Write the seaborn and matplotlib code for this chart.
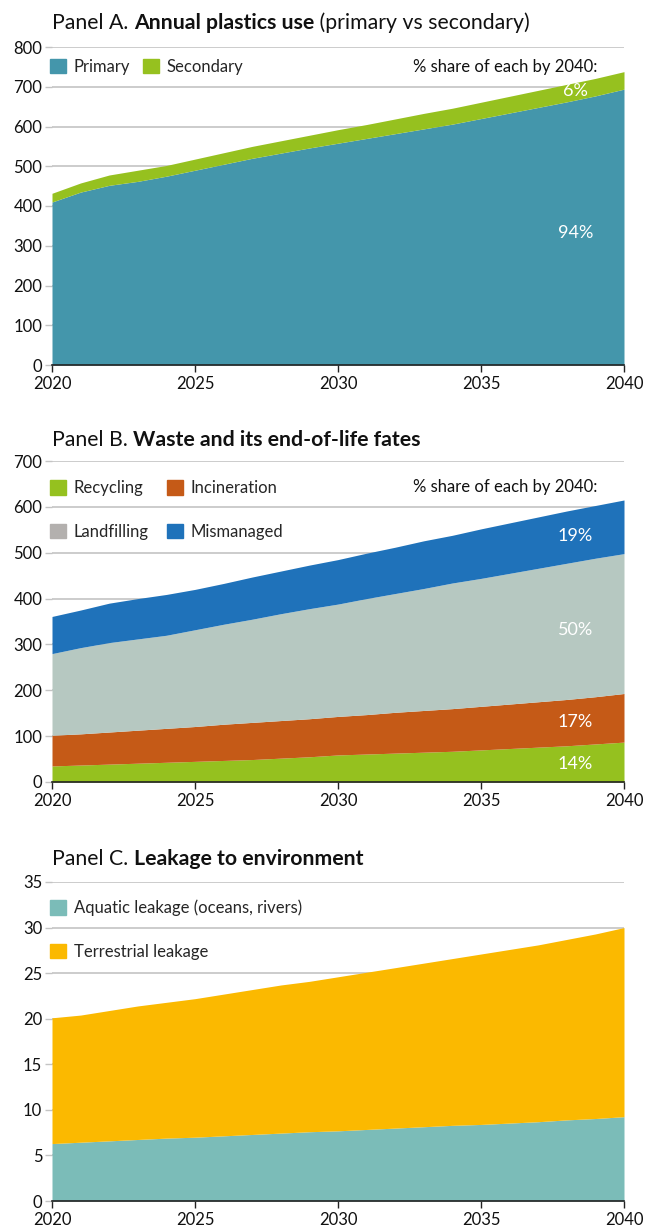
import numpy as np
import matplotlib
matplotlib.use("Agg")
import matplotlib.pyplot as plt
from matplotlib.patches import Patch
import seaborn as sns

years = list(range(2020, 2041))

# Panel A: annual plastics use (Mt)
primary = [410, 435, 452, 462, 475, 490, 505, 520, 533, 546, 558,
           570, 582, 594, 606, 620, 634, 648, 662, 677, 694]
secondary = [22, 23, 26, 28, 27, 28, 29, 30, 31, 32, 34,
             35, 37, 39, 40, 41, 42, 43, 44, 44, 44]

# Panel B: waste and end-of-life fates (Mt)
recycling = [35, 37, 39, 41, 43, 45, 47, 49, 52, 55, 59,
             61, 63, 65, 67, 70, 73, 76, 79, 83, 87]
incineration = [67, 68, 70, 72, 74, 76, 79, 81, 82, 83, 84,
                86, 89, 91, 93, 95, 97, 99, 101, 103, 106]
landfilling = [178, 188, 195, 199, 203, 211, 218, 225, 233, 240, 245,
               253, 259, 266, 274, 279, 285, 291, 297, 302, 305]
mismanaged = [81, 82, 86, 88, 89, 88, 89, 92, 93, 95, 97,
              99, 101, 104, 104, 108, 110, 112, 114, 115, 117]

# Panel C: leakage to environment (Mt)
aquatic = [6.3, 6.45, 6.6, 6.75, 6.9, 7.0, 7.15, 7.3, 7.45, 7.6, 7.7,
           7.85, 8.0, 8.15, 8.3, 8.4, 8.55, 8.7, 8.9, 9.05, 9.25]
terrestrial = [13.8, 13.95, 14.3, 14.65, 14.9, 15.2, 15.55, 15.9, 16.25, 16.5, 16.9,
               17.25, 17.6, 17.95, 18.3, 18.7, 19.05, 19.4, 19.8, 20.25, 20.75]

share_a = ["94%", "6%"]
share_b = ["14%", "17%", "50%", "19%"]

sns.set_theme(style="white")
FONT = ["Lato", "DejaVu Sans"]
plt.rcParams["font.family"] = FONT

C_PRIMARY = "#4496ab"
C_SECOND = "#96c11f"
C_RECYC = "#95c11f"
C_INCIN = "#c55a17"
C_LAND = "#b6c8c1"
C_LAND_KEY = "#b3b0ae"
C_MISM = "#1f72ba"
C_AQUA = "#7bbcb8"
C_TERR = "#fbb900"
GRID = "#c4c4c4"
TXT = 12
TICK = 12

fig = plt.figure(figsize=(6.53, 12.30), dpi=100)
W, H = 653, 1230


def make_axes(top_px, bottom_px):
    left, right = 52, 624
    return fig.add_axes([left / W, 1 - bottom_px / H,
                         (right - left) / W, (bottom_px - top_px) / H])


def style_axes(ax, ymax, ystep):
    ax.set_xlim(2020, 2040)
    ax.set_ylim(0, ymax)
    ax.set_xticks(range(2020, 2041, 5))
    ax.set_yticks(np.arange(0, ymax + ystep / 2, ystep))
    ax.yaxis.grid(True, color=GRID, lw=1.2)
    ax.set_axisbelow(True)
    sns.despine(ax=ax, left=True, top=True, right=True)
    ax.spines["bottom"].set_color("#222222")
    ax.spines["bottom"].set_linewidth(1.2)
    ax.spines["bottom"].set_zorder(5)
    ax.tick_params(axis="x", direction="out", length=5, width=1, color="#222222",
                   labelsize=TICK, pad=3, bottom=True)
    ax.tick_params(axis="y", direction="out", length=5, width=1, color=GRID,
                   labelsize=TICK, pad=2, left=True)
    for lab in ax.get_xticklabels() + ax.get_yticklabels():
        lab.set_color("#111111")


def title(y_px, parts):
    renderer = fig.canvas.get_renderer()
    x = 52 / W
    for txt, weight in parts:
        t = fig.text(x, 1 - y_px / H, txt, fontsize=15.3, fontweight=weight,
                     color="#111111", va="baseline", ha="left")
        bb = t.get_window_extent(renderer=renderer)
        x += bb.width / W


def band_mid(layers, idx, xpos):
    lower = np.sum(layers[:idx], axis=0) if idx > 0 else np.zeros(len(years))
    upper = lower + np.asarray(layers[idx])
    return np.interp(xpos, years, (lower + upper) / 2)


LABEL_X = 2038.3

# ---- Panel A ----
axA = make_axes(47, 365)
layersA = [primary, secondary]
axA.stackplot(years, *layersA, colors=[C_PRIMARY, C_SECOND], lw=0)
style_axes(axA, 800, 100)
axA.legend(handles=[Patch(color=C_PRIMARY), Patch(color=C_SECOND)],
           labels=["Primary", "Secondary"], loc="center left",
           bbox_to_anchor=(-0.003, 0.938), ncol=2, frameon=False,
           handlelength=0.95, handleheight=0.95, handletextpad=0.45,
           columnspacing=0.8, borderaxespad=0, borderpad=0, fontsize=TXT)
axA.text(0.953, 0.938, "% share of each by 2040:", transform=axA.transAxes,
         ha="right", va="center", fontsize=TXT, color="#111111")
for i, lab in enumerate(share_a):
    axA.text(LABEL_X, band_mid(layersA, i, LABEL_X), lab, ha="center", va="center",
             color="white", fontsize=13)
title(29, [("Panel A. ", "normal"), ("Annual plastics use", "bold"),
           (" (primary vs secondary)", "normal")])

# ---- Panel B ----
axB = make_axes(461, 782)
layersB = [recycling, incineration, landfilling, mismanaged]
axB.stackplot(years, *layersB, colors=[C_RECYC, C_INCIN, C_LAND, C_MISM], lw=0)
style_axes(axB, 700, 100)
axB.legend(handles=[Patch(color=C_RECYC), Patch(color=C_LAND_KEY),
                    Patch(color=C_INCIN), Patch(color=C_MISM)],
           labels=["Recycling", "Landfilling", "Incineration", "Mismanaged"],
           loc="upper left", bbox_to_anchor=(-0.003, 0.94), ncol=2, frameon=False,
           handlelength=0.95, handleheight=0.95, handletextpad=0.45,
           columnspacing=1.1, labelspacing=1.65, borderaxespad=0, borderpad=0,
           fontsize=TXT)
axB.text(0.953, 0.918, "% share of each by 2040:", transform=axB.transAxes,
         ha="right", va="center", fontsize=TXT, color="#111111")
for i, lab in enumerate(share_b):
    axB.text(LABEL_X, band_mid(layersB, i, LABEL_X), lab, ha="center", va="center",
             color="white", fontsize=13)
title(446, [("Panel B. ", "normal"), ("Waste and its end-of-life fates", "bold")])

# ---- Panel C ----
axC = make_axes(882, 1201)
axC.stackplot(years, aquatic, terrestrial, colors=[C_AQUA, C_TERR], lw=0)
style_axes(axC, 35, 5)
axC.legend(handles=[Patch(color=C_AQUA), Patch(color=C_TERR)],
           labels=["Aquatic leakage (oceans, rivers)", "Terrestrial leakage"],
           loc="upper left", bbox_to_anchor=(-0.003, 0.945), ncol=1, frameon=False,
           handlelength=0.95, handleheight=0.95, handletextpad=0.45,
           labelspacing=1.65, borderaxespad=0, borderpad=0, fontsize=TXT)
title(865, [("Panel C. ", "normal"), ("Leakage to environment", "bold")])

fig.savefig("out.png", dpi=100, facecolor="white")
